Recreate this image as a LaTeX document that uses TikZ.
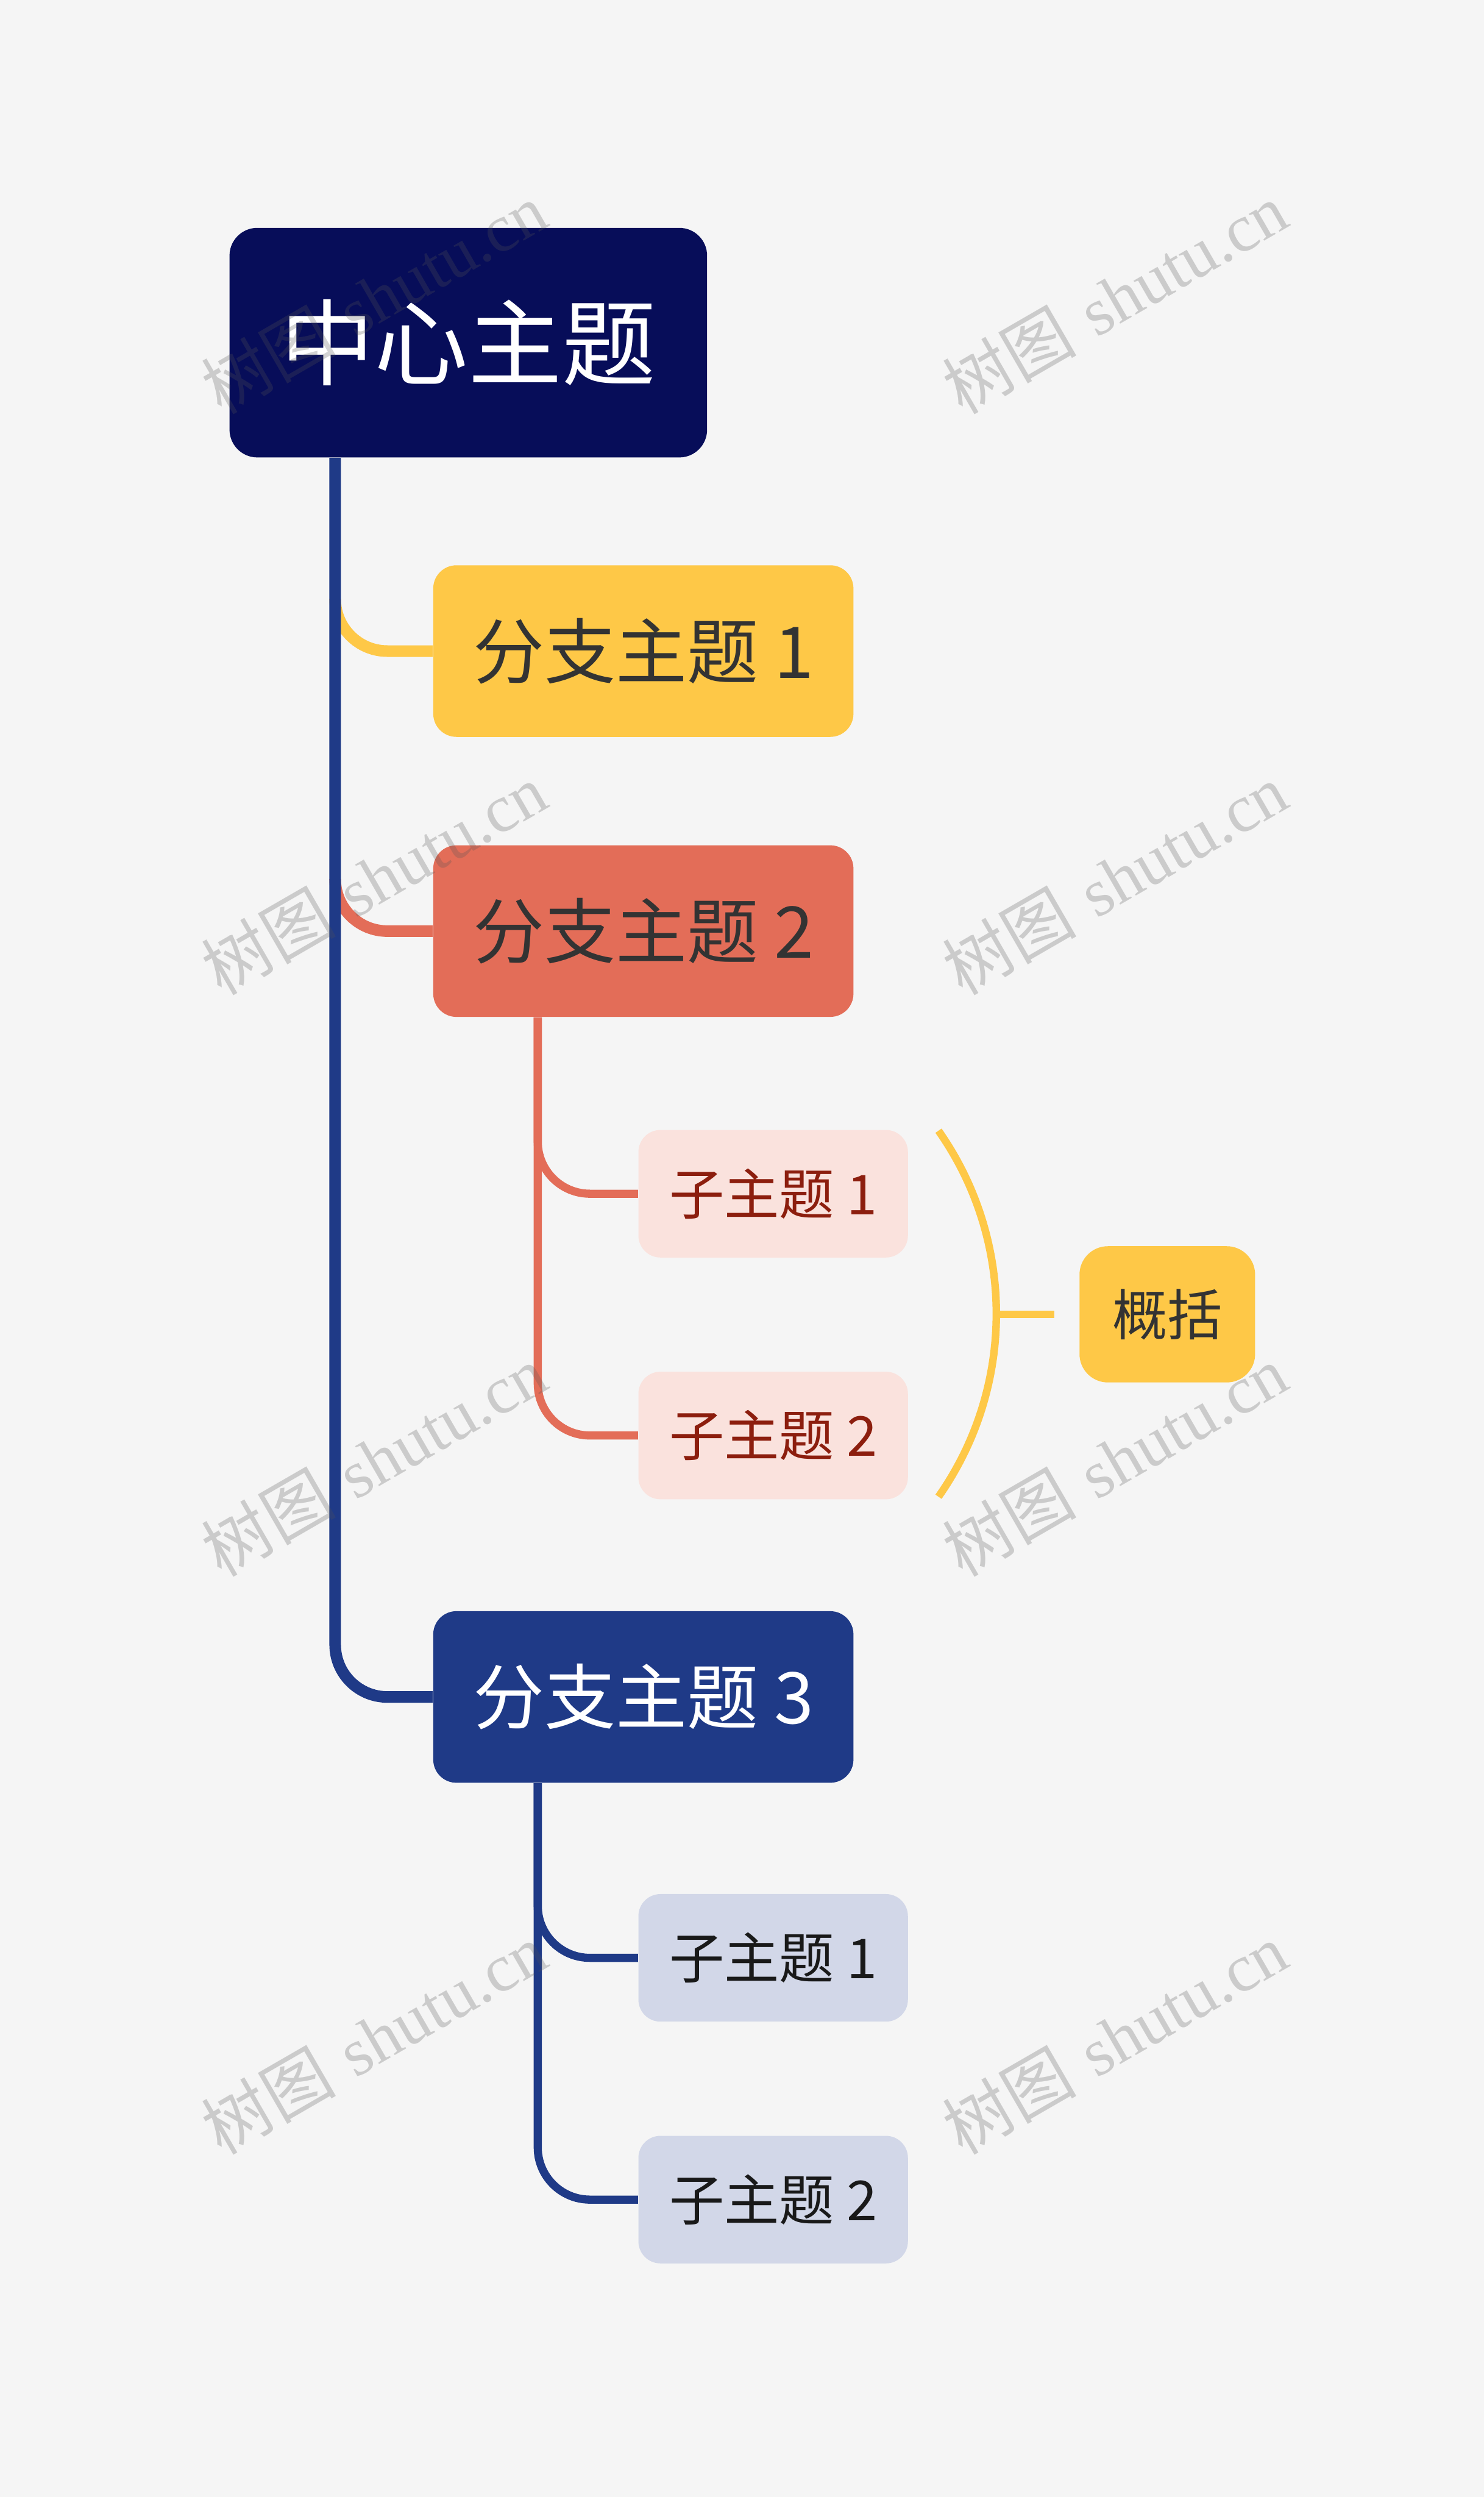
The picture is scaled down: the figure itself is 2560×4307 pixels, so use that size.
\documentclass[tikz,border=0pt]{standalone}
\usepackage{fontspec}
\usetikzlibrary{calc}
\newfontfamily\cjk{Noto Sans CJK SC}
\newfontfamily\wmserif{Liberation Serif}
\definecolor{bgcol}{HTML}{F5F5F5}
\definecolor{rootnavy}{HTML}{070D59}
\definecolor{trunkblue}{HTML}{1F3A87}
\definecolor{topicyel}{HTML}{FEC847}
\definecolor{topicred}{HTML}{E36D58}
\definecolor{subredfill}{HTML}{FAE2DD}
\definecolor{subredtext}{HTML}{8C1E0E}
\definecolor{subbluefill}{HTML}{D2D7E8}
\definecolor{darktext}{HTML}{333333}
\definecolor{wmgray}{HTML}{555555}
\begin{document}
\begin{tikzpicture}[x=0.1mm, y=0.1mm, every node/.style={inner sep=0pt, align=center},
  rootbox/.style={fill=rootnavy, text=white, rounded corners=0.48cm, minimum width=8.24cm, minimum height=3.96cm, font=\cjk\fontsize{46}{50}\selectfont},
  branchbox/.style={rounded corners=0.4cm, minimum width=7.25cm, minimum height=2.96cm, text=darktext, font=\cjk\fontsize{35}{40}\selectfont},
  subbox/.style={rounded corners=0.38cm, minimum width=4.65cm, minimum height=2.2cm, font=\cjk\fontsize{27}{32}\selectfont},
  sumbox/.style={fill=topicyel, text=darktext, rounded corners=0.49cm, minimum width=3.03cm, minimum height=2.35cm, font=\cjk\fontsize{27}{32}\selectfont},
  mainline/.style={line width=0.2cm, rounded corners=0.9cm},
  subline/.style={line width=0.14cm, rounded corners=0.9cm},
  sumline/.style={line width=0.13cm, topicyel},
  wmark/.style={rotate=30, text=wmgray, text opacity=0.26, font=\fontsize{33}{37}\selectfont}]
  \useasboundingbox (0,0) rectangle (2560,-4307);
  \fill[bgcol] (0,0) rectangle (2560,-4307);
  % topics
  \node[rootbox] (root) at (808,-591) {中心主题};
  \node[branchbox, fill=topicyel] (b1) at (1110,-1123) {分支主题 1};
  \node[branchbox, fill=topicred] (b2) at (1110,-1606) {分支主题 2};
  \node[branchbox, fill=trunkblue, text=white] (b3) at (1110,-2927) {分支主题 3};
  \node[subbox, fill=subredfill, text=subredtext] (s21) at (1334,-2059) {子主题 1};
  \node[subbox, fill=subredfill, text=subredtext] (s22) at (1334,-2476) {子主题 2};
  \node[subbox, fill=subbluefill, text=black!90] (s31) at (1334,-3377) {子主题 1};
  \node[subbox, fill=subbluefill, text=black!90] (s32) at (1334,-3794) {子主题 2};
  \node[sumbox] (sum) at (2014,-2267) {概括};
  % branch lines
  \coordinate (trunk) at ($(root.south west)+(183,0)$);
  \draw[mainline, topicyel] ($(b1.west -| trunk)+(0,90)$) |- (b1.west);
  \draw[mainline, topicred] ($(b2.west -| trunk)+(0,90)$) |- (b2.west);
  \draw[mainline, trunkblue] (trunk) |- (b3.west);
  % sub lines
  \coordinate (b2stem) at ($(b2.south west)+(181,0)$);
  \coordinate (b3stem) at ($(b3.south west)+(181,0)$);
  \draw[subline, topicred] (b2stem) |- (s21.west);
  \draw[subline, topicred] (b2stem) |- (s22.west);
  \draw[subline, trunkblue] (b3stem) |- (s31.west);
  \draw[subline, trunkblue] (b3stem) |- (s32.west);
  % summary brace
  \coordinate (braceTop) at ($(s21.north east)+(52,-2)$);
  \coordinate (braceMid) at ($(sum.west)+(-145,0)$);
  \coordinate (tickEnd) at ($(sum.west)+(-43,0)$);
  \draw[sumline] (braceTop) arc[start angle=35.1, end angle=-35.1, radius=5.49cm];
  \draw[sumline] (braceMid) -- (tickEnd);
  % watermark
  \foreach \wx in {645,1923}{
    \foreach \wy in {514,1516,2519,3516}{
      \node[wmark] (wm-\wx-\wy) at (\wx,-\wy) {{\cjk 树图} {\wmserif shutu.cn}};
    }
  }
\end{tikzpicture}
\end{document}
